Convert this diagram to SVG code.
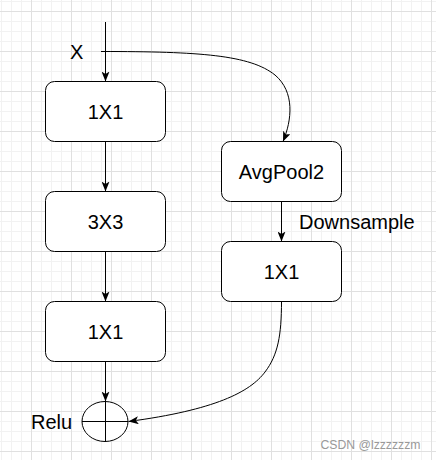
<svg xmlns="http://www.w3.org/2000/svg" width="436" height="460" viewBox="0 0 436 460">
  <defs>
    <pattern id="grid" patternUnits="userSpaceOnUse" x="31" y="11" width="40" height="40">
      <path d="M10.5,0V40M20.5,0V40M30.5,0V40M0,10.5H40M0,20.5H40M0,30.5H40" stroke="#f2f2f2" stroke-width="1" fill="none"/>
      <path d="M0.5,0V40M0,0.5H40" stroke="#e0e0e0" stroke-width="1" fill="none"/>
    </pattern>
    <marker id="arrow" markerUnits="userSpaceOnUse" markerWidth="10" markerHeight="8" viewBox="0 0 10 8" refX="10" refY="4" orient="auto">
      <path d="M0,0 L10,4 L0,8 L2.5,4 Z" fill="#000"/>
    </marker>
    <style>
      .box { fill: #fff; stroke: #000; stroke-width: 1; }
      .lbl { font-family: "Liberation Sans", Arial, sans-serif; font-size: 20px; fill: #000; }
      .mid { text-anchor: middle; }
      .edge { fill: none; stroke: #000; stroke-width: 1; }
      .arr { marker-end: url(#arrow); }
    </style>
  </defs>
  <rect x="0" y="0" width="436" height="460" fill="#fff"/>
  <rect x="0" y="0" width="436" height="460" fill="url(#grid)"/>

  <g id="connectors">
    <path class="edge arr" d="M105.5,22 V81.5"/>
    <path class="edge arr" d="M101,51.5 C200,51.5 250,55 275,75 C295,92 292,120 283,141.5"/>
    <path class="edge arr" d="M105.5,141.5 V191.5"/>
    <path class="edge arr" d="M105.5,251.5 V301.5"/>
    <path class="edge arr" d="M105.5,361.5 V401.5"/>
    <path class="edge arr" d="M281.5,201.5 V241.5"/>
    <path class="edge arr" d="M281.5,301.5 C281.5,335 278,355 265,372 C250,392 215,410 128.5,421.5"/>
  </g>

  <g id="label-x"><text class="lbl" x="70" y="59">X</text></g>

  <g id="node-1x1-a">
    <rect class="box" x="45.5" y="81.5" width="120" height="60" rx="9" ry="9"/>
    <text class="lbl mid" x="105.5" y="118.5">1X1</text>
  </g>
  <g id="node-3x3">
    <rect class="box" x="45.5" y="191.5" width="120" height="60" rx="9" ry="9"/>
    <text class="lbl mid" x="105.5" y="228.5">3X3</text>
  </g>
  <g id="node-1x1-b">
    <rect class="box" x="45.5" y="301.5" width="120" height="60" rx="9" ry="9"/>
    <text class="lbl mid" x="105.5" y="338.5">1X1</text>
  </g>
  <g id="node-avgpool">
    <rect class="box" x="221.5" y="141.5" width="120" height="60" rx="9" ry="9"/>
    <text class="lbl mid" x="281.5" y="178.5">AvgPool2</text>
  </g>
  <g id="label-downsample"><text class="lbl" x="299" y="229">Downsample</text></g>
  <g id="node-1x1-c">
    <rect class="box" x="221.5" y="241.5" width="120" height="60" rx="9" ry="9"/>
    <text class="lbl mid" x="281.5" y="278.5">1X1</text>
  </g>
  <g id="node-add">
    <ellipse class="box" cx="105" cy="421.5" rx="23" ry="20"/>
    <path class="edge" d="M82,421.5 H128 M105.5,401.5 V441.5"/>
  </g>
  <g id="label-relu"><text class="lbl" x="31" y="429">Relu</text></g>

  <text x="320.5" y="449" font-family="'Liberation Sans', Arial, sans-serif" font-size="12.5" fill="#999" textLength="100" lengthAdjust="spacingAndGlyphs">CSDN @lzzzzzzm</text>
</svg>
